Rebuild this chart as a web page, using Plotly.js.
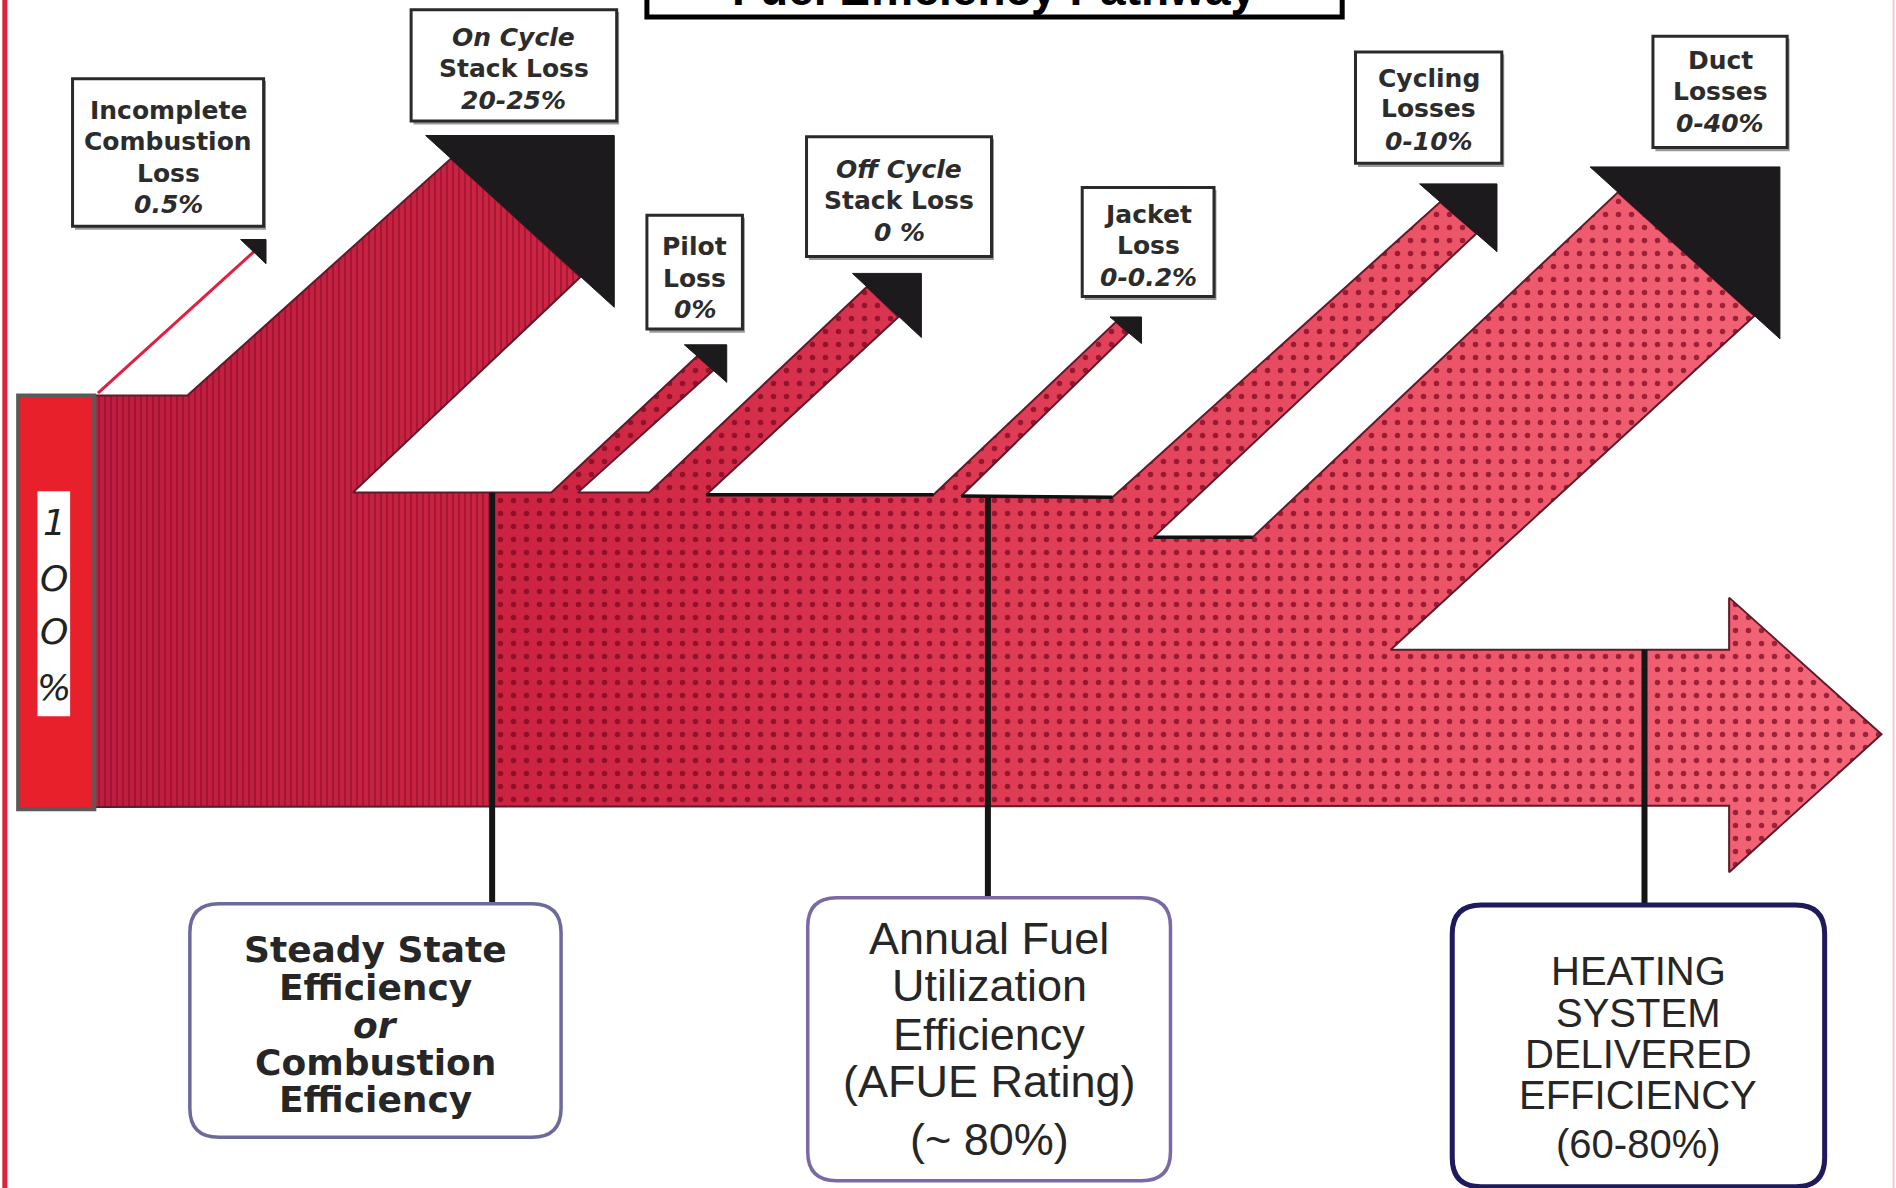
<!DOCTYPE html>
<html><head><meta charset="utf-8">
<script src="https://cdn.plot.ly/plotly-3.0.1.min.js"></script>
<style>html,body{margin:0;padding:0;background:#fff;overflow:hidden}#chart{width:1896px;height:1188px}</style>
</head><body><div id="chart"></div>
<script>
// ---------------- data (text & values) ----------------
const titleText = "Fuel Efficiency Pathway";
const inputLabel = ["1", "O", "O", "%"];
const lossNames = [
  ["Incomplete", "Combustion", "Loss"],
  ["<i>On Cycle</i>", "Stack Loss"],
  ["Pilot", "Loss"],
  ["<i>Off Cycle</i>", "Stack Loss"],
  ["Jacket", "Loss"],
  ["Cycling", "Losses"],
  ["Duct", "Losses"]
];
const lossValues = ["0.5%", "20-25%", "0%", "0 %", "0-0.2%", "0-10%", "0-40%"];
const effNames = [
  ["Steady State", "Efficiency", "<i>or</i>", "Combustion", "Efficiency"],
  ["Annual Fuel", "Utilization", "Efficiency", "(AFUE Rating)"],
  ["HEATING", "SYSTEM", "DELIVERED", "EFFICIENCY"]
];
const effValues = ["", "(~ 80%)", "(60-80%)"];

// ---------------- geometry (diagram units) ----------------
const W = 1568, H = 982;
const flowX = [78, 78, 155, 373, 480, 292, 456, 577, 590, 478, 537, 717, 743, 584, 772, 923, 933, 795, 920, 1191, 1221, 954, 1036, 1338, 1451, 1150, 1430, 1430, 1556, 1430, 1430, 78];
const flowY = [667, 327, 327, 131, 229, 407, 407, 294, 306, 407, 407, 237, 262, 409, 409, 266, 275, 410, 411, 167, 193, 444, 444, 159, 261, 537, 537, 494, 607, 721, 666, 667];
const stripeX = [78, 78, 155, 373, 480, 292, 407, 407, 78];
const stripeY = [667, 327, 327, 131, 229, 407, 407, 667, 667];
const dotX = [407, 407, 456, 577, 590, 478, 537, 717, 743, 584, 772, 923, 933, 795, 920, 1191, 1221, 954, 1036, 1338, 1451, 1150, 1430, 1430, 1556, 1430, 1430, 407];
const dotY = [667, 407, 407, 294, 306, 407, 407, 237, 262, 409, 409, 266, 275, 410, 411, 167, 193, 444, 444, 159, 261, 537, 537, 494, 607, 721, 666, 667];
// arrowheads: [xLeft, yTop, xRight, yBottom]
const heads = [[199, 198, 220, 218], [352, 112, 508, 254], [566, 285, 601, 316], [705, 226, 762, 279], [918, 262, 944, 284], [1174, 152, 1238, 208], [1315, 138, 1472, 280]];
const labelBoxes = [[60, 65, 218, 187], [340, 8, 510, 100], [535, 178, 614, 272], [667, 113, 820, 212], [895, 155, 1004, 245], [1121, 43, 1242, 135], [1367, 30, 1478, 122]];
const labelLineY = [[91, 117, 143, 169], [31, 57, 83], [204, 230, 256], [140, 166, 192], [177, 203, 229], [65, 90, 117], [50, 76, 102]];
const effBoxes = [[157, 747, 464, 940], [668, 742, 968, 976], [1201, 748, 1509, 981]];
const effLineY = [[785, 816, 848, 878, 909], [776, 815, 855, 894, 942], [803, 837, 871, 905, 946]];
const pointerX = [407, 817, 1360];
const pointerTop = [407, 410, 537];
const blackEdges = [[584, 409, 772, 409], [795, 410, 920, 411], [954, 444, 1036, 444]];

// ---------------- traces ----------------
const traces = [];
traces.push({ x: flowX, y: flowY, mode: 'none', fill: 'toself', hoverinfo: 'skip',
  fillgradient: { type: 'horizontal', start: 78, stop: 1556,
    colorscale: [[0, '#c01c3e'], [0.25, '#cc2442'], [0.5, '#de3a54'], [0.75, '#ec5468'], [1, '#f4687a']] } });
traces.push({ x: stripeX, y: stripeY, mode: 'none', fill: 'toself', hoverinfo: 'skip', fillcolor: 'rgba(0,0,0,0)',
  fillpattern: { shape: '|', fgcolor: 'rgba(110,8,35,0.45)', bgcolor: 'rgba(0,0,0,0)', size: 6, solidity: 0.3 } });
traces.push({ x: dotX, y: dotY, mode: 'none', fill: 'toself', hoverinfo: 'skip', fillcolor: 'rgba(0,0,0,0)',
  fillpattern: { shape: '.', fgcolor: 'rgba(120,5,30,0.7)', bgcolor: 'rgba(0,0,0,0)', size: 13, solidity: 0.14 } });
traces.push({ x: flowX, y: flowY, mode: 'lines', hoverinfo: 'skip', line: { color: '#5e1a2a', width: 2 } });
// incomplete combustion thin arrow shaft
traces.push({ x: [81, 210], y: [325, 208], mode: 'lines', hoverinfo: 'skip', line: { color: '#e02040', width: 3 } });
heads.forEach(h => {
  traces.push({ x: [h[0], h[2], h[2], h[0]], y: [h[1], h[1], h[3], h[1]], mode: 'lines', fill: 'toself',
    fillcolor: '#1c1a1c', line: { color: '#1c1a1c', width: 1 }, hoverinfo: 'skip' });
});

// ---------------- shapes ----------------
const shapes = [];
shapes.push({ type: 'line', x0: 4, x1: 4, y0: 0, y1: H, line: { color: '#e0203c', width: 5 } });
shapes.push({ type: 'line', x0: 1566, x1: 1566, y0: 0, y1: H, line: { color: '#f4c8d0', width: 2 } });
shapes.push({ type: 'rect', x0: 535, x1: 1110, y0: -30, y1: 14, line: { color: '#000', width: 5 }, fillcolor: '#fff', layer: 'below' });
blackEdges.forEach(e => shapes.push({ type: 'line', x0: e[0], y0: e[1], x1: e[2], y1: e[3], line: { color: '#111', width: 3.5 } }));
pointerX.forEach((px, i) => shapes.push({ type: 'line', x0: px, x1: px, y0: pointerTop[i], y1: effBoxes[i][1], line: { color: '#151515', width: 6 } }));
shapes.push({ type: 'rect', x0: 15, x1: 78, y0: 327, y1: 669, fillcolor: '#e8202c', line: { color: '#5a5a5a', width: 4 } });
shapes.push({ type: 'rect', x0: 31, x1: 58, y0: 406, y1: 592, fillcolor: '#ffffff', line: { width: 0 } });
labelBoxes.forEach(b => {
  shapes.push({ type: 'rect', x0: b[0] + 2, x1: b[2] + 2, y0: b[1] + 2, y1: b[3] + 3, fillcolor: '#9a9a9a', line: { width: 0 } });
  shapes.push({ type: 'rect', x0: b[0], x1: b[2], y0: b[1], y1: b[3], fillcolor: '#ffffff', line: { color: '#2a2a2a', width: 3 } });
});
function rr(x0, y0, x1, y1, r) {
  return `M ${x0 + r},${y0} L ${x1 - r},${y0} Q ${x1},${y0} ${x1},${y0 + r} L ${x1},${y1 - r} Q ${x1},${y1} ${x1 - r},${y1} L ${x0 + r},${y1} Q ${x0},${y1} ${x0},${y1 - r} L ${x0},${y0 + r} Q ${x0},${y0} ${x0 + r},${y0} Z`;
}
const effBorder = ['#6c6a9c', '#7a68a8', '#1e1a5c'];
const effBorderW = [3.5, 3.5, 5];
effBoxes.forEach((b, i) => shapes.push({ type: 'path', path: rr(b[0], b[1], b[2], b[3], 24), fillcolor: '#ffffff', line: { color: effBorder[i], width: effBorderW[i] } }));

// ---------------- annotations ----------------
const ann = [];
function txt(x, y, t, family, size, color, extra) {
  ann.push(Object.assign({ x: x, y: y, text: t, showarrow: false, xanchor: 'center', yanchor: 'middle',
    font: { family: family, size: size, color: color } }, extra || {}));
}
txt(822, 14, '<b>' + titleText + '</b>', 'Liberation Sans', 46, '#000', { yanchor: 'bottom' });
const inY = [432, 478, 522, 568];
inputLabel.forEach((c, i) => txt(45, inY[i], '<i>' + c + '</i>', 'DejaVu Sans', 36, '#222'));
lossNames.forEach((lines, i) => {
  const b = labelBoxes[i];
  const cx = (b[0] + b[2]) / 2;
  const all = lines.concat(['<i>' + lossValues[i] + '</i>']);
  all.forEach((t, j) => txt(cx, labelLineY[i][j], '<b>' + t + '</b>', 'DejaVu Sans', 25, '#2c2c2c'));
});
const effFont = ['DejaVu Sans', 'Liberation Sans', 'Liberation Sans'];
const effSize = [36, 45, 40];
effNames.forEach((lines, i) => {
  const b = effBoxes[i];
  const cx = (b[0] + b[2]) / 2;
  const all = effValues[i] ? lines.concat([effValues[i]]) : lines;
  all.forEach((t, j) => txt(cx, effLineY[i][j], i === 0 ? '<b>' + t + '</b>' : t, effFont[i], effSize[i], '#262626'));
});

const layout = {
  width: 1896, height: 1188,
  margin: { l: 0, r: 0, t: 0, b: 0 },
  paper_bgcolor: '#ffffff', plot_bgcolor: '#ffffff',
  showlegend: false,
  xaxis: { range: [0, W], visible: false, fixedrange: true },
  yaxis: { range: [H, 0], visible: false, fixedrange: true },
  shapes: shapes,
  annotations: ann
};
Plotly.newPlot('chart', traces, layout, { staticPlot: true, displayModeBar: false });
</script>
</body></html>
